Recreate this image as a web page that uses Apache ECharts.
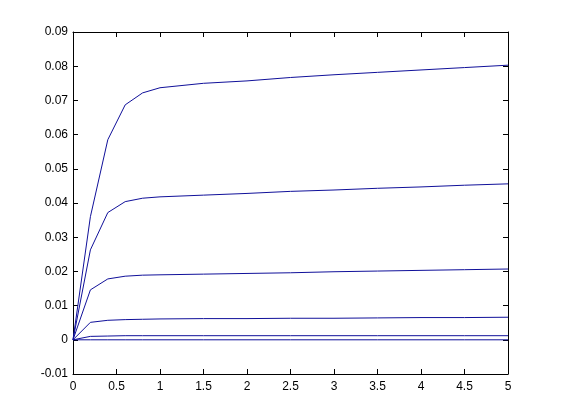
<!DOCTYPE html>
<html>
<head>
<meta charset="utf-8">
<script src="https://cdn.jsdelivr.net/npm/echarts@6/dist/echarts.min.js"></script>
<style>html,body{margin:0;padding:0;background:#fff;}#c{width:561px;height:420px;}</style>
</head>
<body>
<div id="c"></div>
<script>
var xValues = [0, 0.2, 0.4, 0.6, 0.8, 1, 1.5, 2, 2.5, 3, 3.5, 4, 4.5, 5];
var series1 = [0, 0.0360, 0.0585, 0.0687, 0.0722, 0.0737, 0.0750, 0.0757, 0.0767, 0.0775, 0.0782, 0.0789, 0.0796, 0.0803];
var series2 = [0, 0.0263, 0.0372, 0.0404, 0.0414, 0.0418, 0.0423, 0.0428, 0.0434, 0.0438, 0.0443, 0.0447, 0.0452, 0.0456];
var series3 = [0, 0.0146, 0.0178, 0.0186, 0.0189, 0.0190, 0.0192, 0.0194, 0.0196, 0.0199, 0.0201, 0.0203, 0.0205, 0.0207];
var series4 = [0, 0.0051, 0.0057, 0.0059, 0.0060, 0.0061, 0.0062, 0.0062, 0.0063, 0.0063, 0.0064, 0.0065, 0.0065, 0.0066];
var series5 = [0, 0.0010, 0.0011, 0.0012, 0.0012, 0.0012, 0.0012, 0.0012, 0.0012, 0.0012, 0.0012, 0.0012, 0.0012, 0.0012];
var series6 = [0, 0, 0, 0, 0, 0, 0, 0, 0, 0, 0, 0, 0, 0];
var allSeries = [series1, series2, series3, series4, series5, series6];

var lineColor = '#10109a';
var font = {fontFamily: 'Liberation Sans, Arial, sans-serif', fontSize: 12, color: '#000'};

function pairs(ys) { return xValues.map(function (x, i) { return [x, ys[i]]; }); }

var chart = echarts.init(document.getElementById('c'));
var axisLineStyle = {show: true, onZero: false, lineStyle: {color: '#000', width: 1}};
var tickStyle = {show: true, inside: true, length: 5, lineStyle: {color: '#000'}};
chart.setOption({
  animation: false,
  backgroundColor: '#fff',
  grid: {left: 73, right: 53, top: 32, bottom: 46, containLabel: false},
  xAxis: [
    {type: 'value', min: 0, max: 5, interval: 0.5, position: 'bottom',
     axisLine: axisLineStyle, axisTick: tickStyle, splitLine: {show: false},
     axisLabel: Object.assign({margin: 7, formatter: function (v) { return String(+v.toFixed(1)); }}, font)},
    {type: 'value', min: 0, max: 5, interval: 0.5, position: 'top',
     axisLine: axisLineStyle, axisTick: tickStyle, splitLine: {show: false}, axisLabel: {show: false}}
  ],
  yAxis: [
    {type: 'value', min: -0.01, max: 0.09, interval: 0.01, position: 'left',
     axisLine: axisLineStyle, axisTick: tickStyle, splitLine: {show: false},
     axisLabel: Object.assign({margin: 5, formatter: function (v) { return String(+v.toFixed(2)); }}, font)},
    {type: 'value', min: -0.01, max: 0.09, interval: 0.01, position: 'right',
     axisLine: axisLineStyle, axisTick: tickStyle, splitLine: {show: false}, axisLabel: {show: false}}
  ],
  series: allSeries.map(function (s) {
    return {type: 'line', data: pairs(s), showSymbol: false, symbol: 'none',
            lineStyle: {color: lineColor, width: 1}, silent: true};
  })
});
</script>
</body>
</html>
